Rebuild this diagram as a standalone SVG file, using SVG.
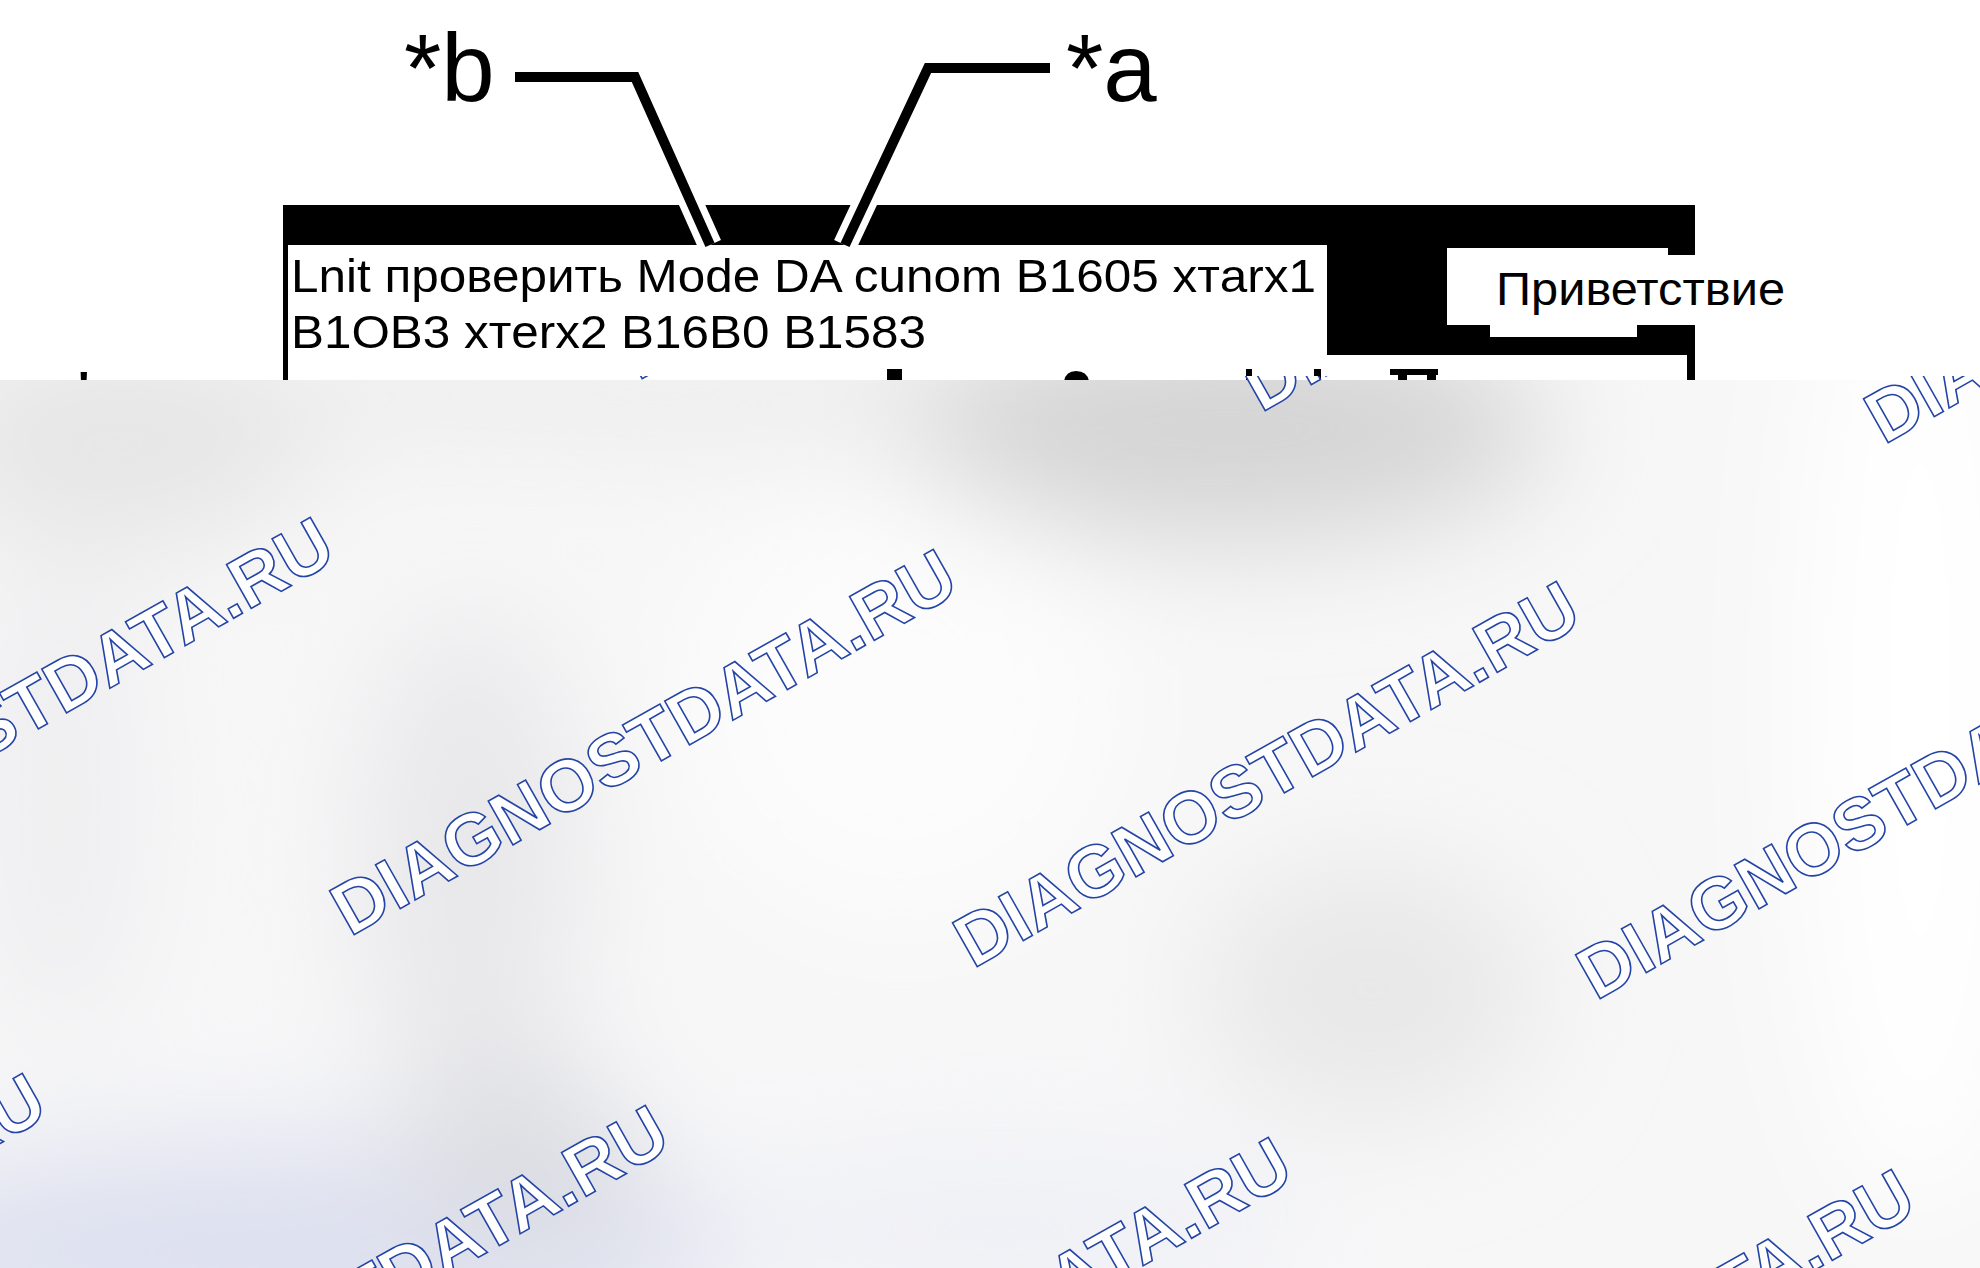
<svg xmlns="http://www.w3.org/2000/svg" width="1980" height="1268" viewBox="0 0 1980 1268">
<style>
.lbl{font-family:"Liberation Sans",Arial,sans-serif;fill:#000}
.wm{font-family:"Liberation Sans",Arial,sans-serif;font-weight:bold;font-size:73px;fill:#fff;stroke:#2444a6;stroke-width:1.6px}
.halo{fill:none;stroke:#fff;stroke-width:24;stroke-linejoin:miter}
.lead{fill:none;stroke:#000;stroke-width:10;stroke-linejoin:miter}
</style>
<defs>
<filter id="soft" filterUnits="userSpaceOnUse" x="-300" y="100" width="2600" height="1500">
<feGaussianBlur stdDeviation="60"/>
</filter>
<clipPath id="blurClip"><rect x="0" y="380" width="1980" height="888"/></clipPath>
<clipPath id="wmClip"><rect x="0" y="376" width="1980" height="892"/></clipPath>
</defs>
<rect width="1980" height="1268" fill="#fff"/>

<g id="screen-frame">
<rect x="283" y="205" width="1412" height="40" fill="#000"/>
<rect x="283" y="245" width="5" height="140" fill="#000"/>
<rect x="1327" y="245" width="368" height="110" fill="#000"/>
<rect x="1687" y="355" width="8" height="30" fill="#000"/>
<polygon points="1447,248 1668,248 1668,255 1702,255 1702,325 1637,325 1637,337 1490,337 1490,325 1447,325" fill="#fff"/>
</g>

<g id="text-area">
<text class="lbl" x="291" y="292" font-size="47" textLength="1025" lengthAdjust="spacingAndGlyphs">Lnit проверить Mode DA cunom B1605 xтarx1</text>
<text class="lbl" x="291" y="348" font-size="47" textLength="635" lengthAdjust="spacingAndGlyphs">B1OB3 xтerx2 B16B0 B1583</text>
</g>

<g id="greeting">
<text class="lbl" x="1496" y="305" font-size="46" textLength="289" lengthAdjust="spacingAndGlyphs">Приветствие</text>
</g>

<g id="connectors">
<polyline class="halo" points="515,77 635,77 710,245"/>
<polyline class="halo" points="1050,68 928,68 845,245"/>
<polyline class="lead" points="515,77 635,77 710,245"/>
<polyline class="lead" points="1050,68 928,68 845,245"/>
</g>

<g id="label-b"><text class="lbl" x="404" y="101" font-size="96">*b</text></g>
<g id="label-a"><text class="lbl" x="1066" y="101" font-size="96">*a</text></g>

<g id="cut-fragments" fill="#000">
<text class="lbl" x="65" y="438" font-size="96">*</text>
<rect x="887" y="369" width="15" height="12"/>
<path d="M1064,381 Q1066,371 1076,371 Q1087,371 1089,381 Z"/>
<rect x="1246" y="369" width="6" height="12"/>
<rect x="1314" y="369" width="7" height="12"/>
<rect x="1390" y="369" width="48" height="6"/>
<rect x="1398" y="369" width="9" height="12"/>
<rect x="1427" y="369" width="9" height="12"/>
</g>

<g id="blurred-area" clip-path="url(#blurClip)">
<rect x="0" y="380" width="1980" height="888" fill="#f7f7f8"/>
<g filter="url(#soft)">
<ellipse cx="700" cy="395" rx="650" ry="45" fill="#ebebeb"/>
<ellipse cx="1230" cy="430" rx="320" ry="110" fill="#d4d4d4"/>
<ellipse cx="120" cy="440" rx="200" ry="110" fill="#e6e6e6"/>
<ellipse cx="60" cy="800" rx="80" ry="250" fill="#eeeef0"/>
<ellipse cx="470" cy="870" rx="110" ry="260" fill="#e8e8ea"/>
<ellipse cx="1370" cy="990" rx="170" ry="130" fill="#e8e8e8"/>
<ellipse cx="300" cy="1250" rx="450" ry="110" fill="#dde0ef"/>
<ellipse cx="520" cy="1160" rx="120" ry="90" fill="#dcdde2"/>
<ellipse cx="1000" cy="1230" rx="300" ry="80" fill="#eff0f6"/>
<ellipse cx="1920" cy="700" rx="120" ry="520" fill="#ffffff"/>
<ellipse cx="900" cy="700" rx="220" ry="220" fill="#fcfcfd"/>
</g>
</g>

<g id="watermarks" clip-path="url(#wmClip)">
<text class="wm" transform="translate(638,381) rotate(-29.5)">DIAGNOSTDATA.RU</text>
<text class="wm" transform="translate(1261,413) rotate(-29.5)">DIAGNOSTDATA.RU</text>
<text class="wm" transform="translate(1884,445) rotate(-29.5)">DIAGNOSTDATA.RU</text>
<text class="wm" transform="translate(-273,905) rotate(-29.5)">DIAGNOSTDATA.RU</text>
<text class="wm" transform="translate(350,937) rotate(-29.5)">DIAGNOSTDATA.RU</text>
<text class="wm" transform="translate(973,969) rotate(-29.5)">DIAGNOSTDATA.RU</text>
<text class="wm" transform="translate(1596,1001) rotate(-29.5)">DIAGNOSTDATA.RU</text>
<text class="wm" transform="translate(-561,1461) rotate(-29.5)">DIAGNOSTDATA.RU</text>
<text class="wm" transform="translate(62,1493) rotate(-29.5)">DIAGNOSTDATA.RU</text>
<text class="wm" transform="translate(685,1525) rotate(-29.5)">DIAGNOSTDATA.RU</text>
<text class="wm" transform="translate(1308,1557) rotate(-29.5)">DIAGNOSTDATA.RU</text>
</g>
</svg>
